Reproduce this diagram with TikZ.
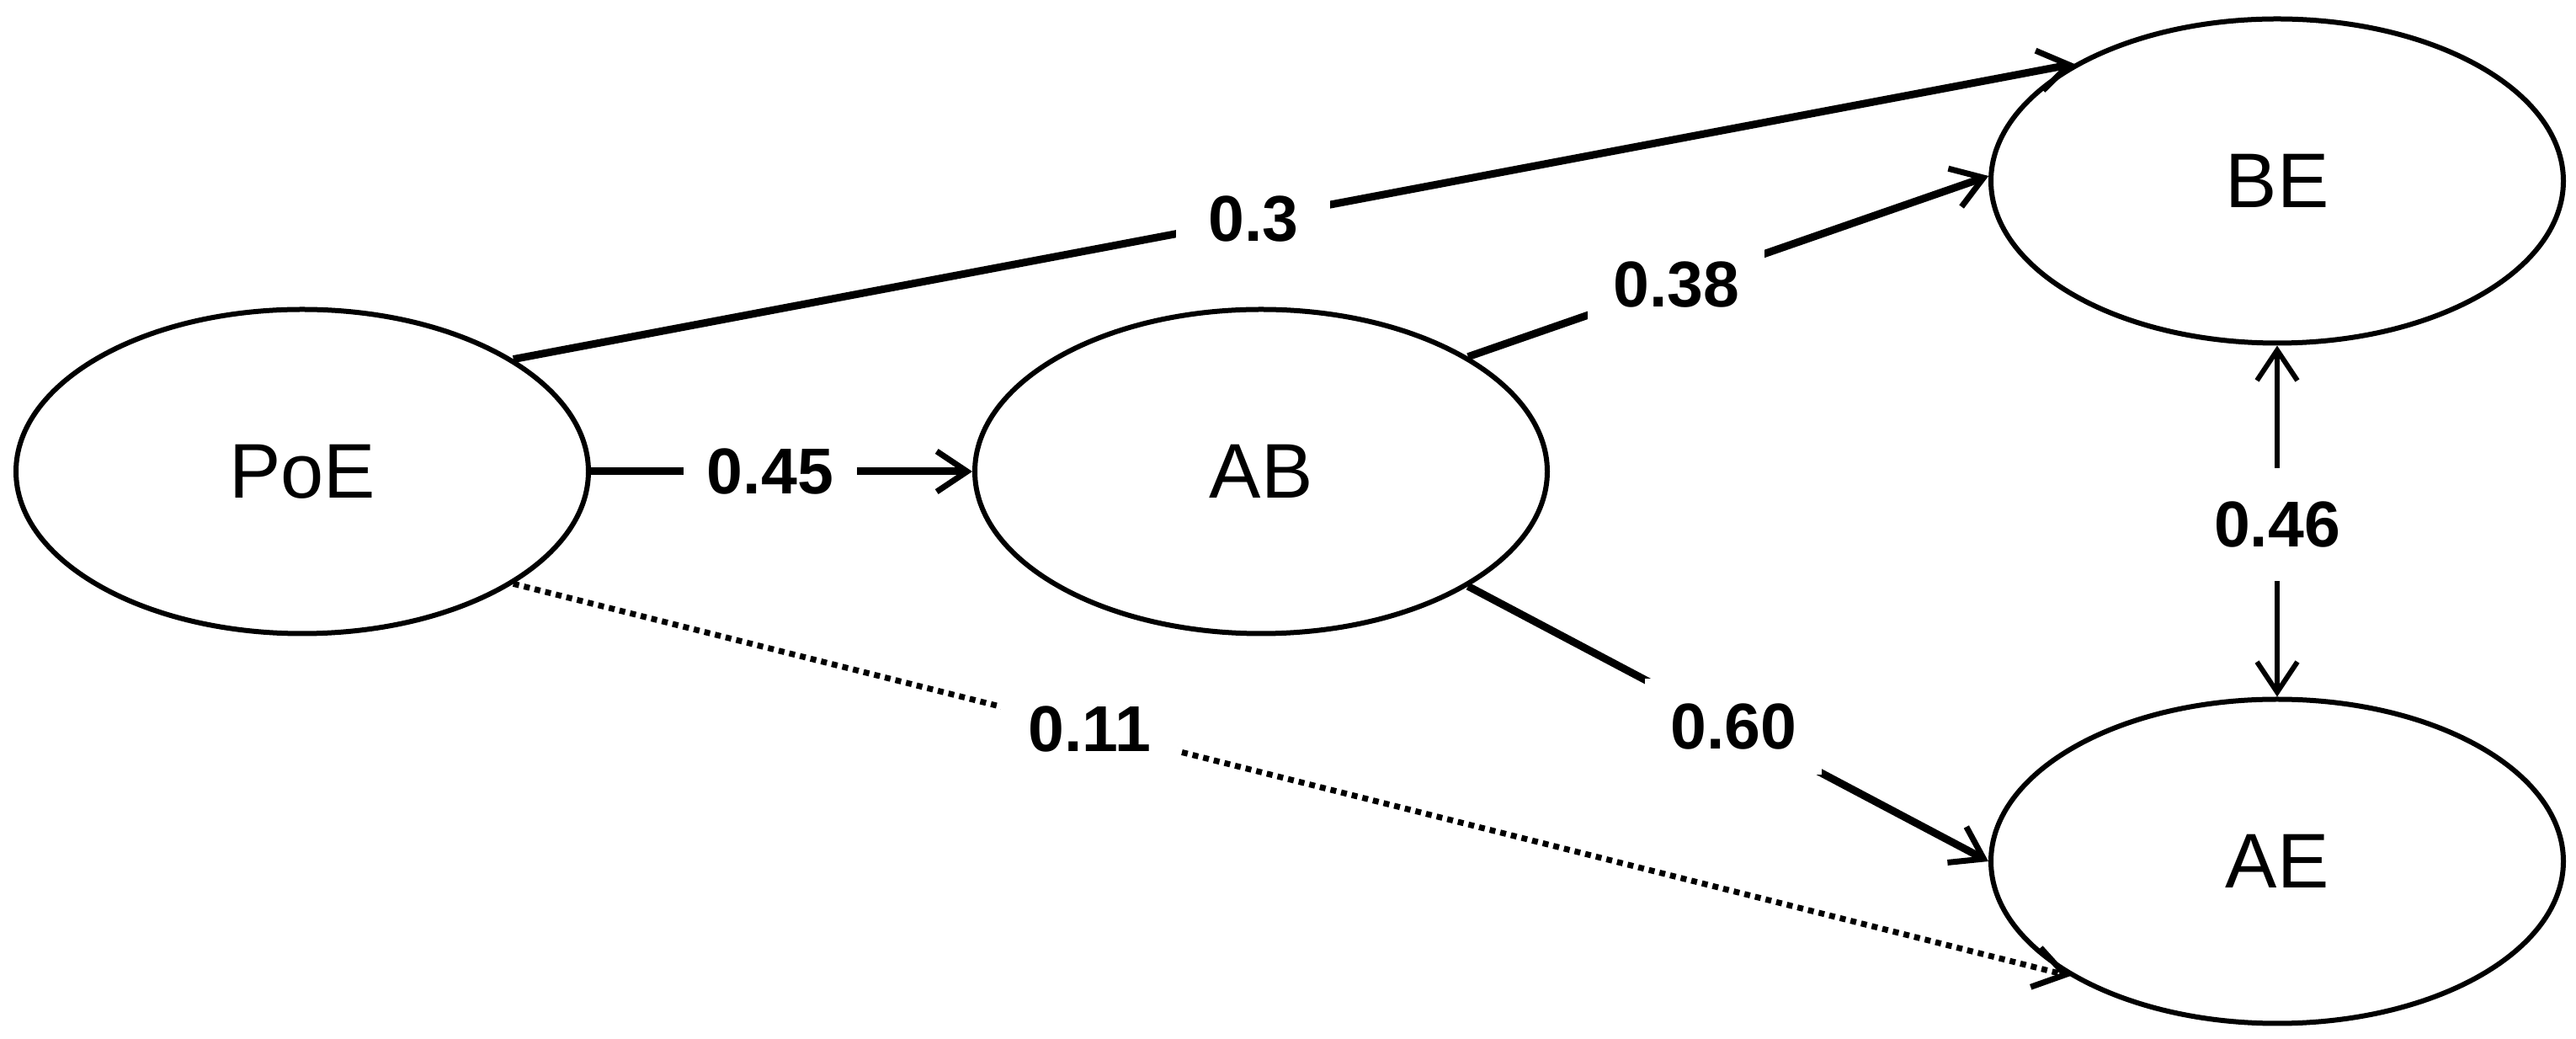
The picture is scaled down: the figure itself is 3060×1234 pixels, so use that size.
\documentclass[tikz,border=0pt]{standalone}
\usepackage{fontspec}
\setmainfont{Liberation Sans}
\usetikzlibrary{shapes.geometric,arrows.meta}
\begin{document}
\begin{tikzpicture}[x=1pt,y=1pt,
  ell/.style={draw,ellipse,line width=6pt,minimum width=680pt,minimum height=385pt,inner sep=0pt,font=\fontsize{92}{94}\selectfont},
  conn/.style={line width=9pt,-{Straight Barb[length=36pt,width=48pt,line width=7pt]}},
  lab/.style={fill=white,inner sep=45pt,font=\bfseries\fontsize{77}{79}\selectfont}]
\useasboundingbox (0,0) rectangle (3060,1234);
\node[ell] (PoE) at (359,674) {PoE};
\node[ell] (AB) at (1498,674) {AB};
\node[ell] (BE) at (2705,1019) {BE};
\node[ell] (AE) at (2705,211) {AE};
\draw[conn] (PoE.28.3) -- node[lab,pos=0.474,inner sep=38pt]{0.3} (BE.150);
\draw[conn] (PoE.east) -- node[lab,pos=0.47,inner sep=28pt]{0.45} (AB.west);
\draw[conn] (AB.29.5) -- node[lab,pos=0.40,inner sep=30pt]{0.38} (BE.179);
\draw[conn] (AB.-29.4) -- node[lab,pos=0.51,inner sep=30pt]{0.60} (AE.180);
\draw[conn,line width=7pt,dash pattern=on 7pt off 6pt] (PoE.-28.8) -- node[lab,pos=0.37,inner sep=32pt]{0.11} (AE.209);
\draw[line width=6pt,{Straight Barb[length=36pt,width=48pt,line width=6pt]}-{Straight Barb[length=36pt,width=48pt,line width=6pt]}] (BE.south) -- node[lab,pos=0.51,inner sep=40pt]{0.46} (AE.north);
\end{tikzpicture}
\end{document}
